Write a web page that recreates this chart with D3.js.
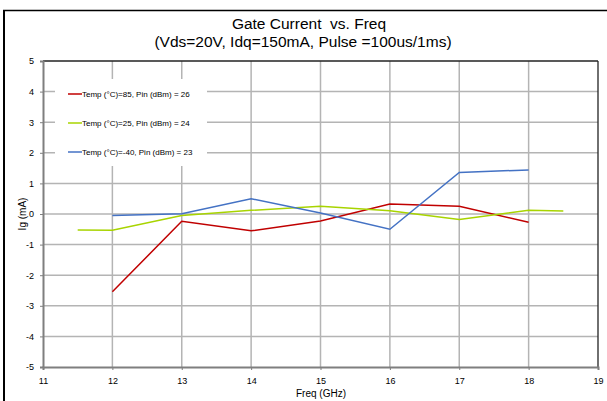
<!DOCTYPE html>
<html>
<head>
<meta charset="utf-8">
<script src="https://cdn.jsdelivr.net/npm/d3@7/dist/d3.min.js"></script>
<style>
  html, body { margin: 0; padding: 0; background: #fff; }
  svg { display: block; font-family: "Liberation Sans", Arial, sans-serif; }
</style>
</head>
<body>
<svg id="chart" width="607" height="401"></svg>
<script>
// Gate current vs. frequency at three temperatures
const freqTicks = [11, 12, 13, 14, 15, 16, 17, 18, 19];
const igTicks = [-5, -4, -3, -2, -1, 0, 1, 2, 3, 4, 5];

const freq85 = [12, 13, 14, 15, 16, 17, 18];
const ig85 = [-2.54, -0.24, -0.55, -0.23, 0.33, 0.25, -0.27];

const freq25 = [11.5, 12, 13, 14, 15, 16, 17, 18, 18.5];
const ig25 = [-0.52, -0.53, -0.05, 0.12, 0.25, 0.11, -0.18, 0.12, 0.10];

const freqM40 = [12, 13, 14, 15, 16, 17, 18];
const igM40 = [-0.05, 0.01, 0.50, 0.03, -0.50, 1.36, 1.44];

const seriesNames = [
  "Temp (°C)=85, Pin (dBm) = 26",
  "Temp (°C)=25, Pin (dBm) = 24",
  "Temp (°C)=-40, Pin (dBm) = 23"
];
const seriesColors = ["#c00000", "#a8d400", "#4472c4"];

const series = [
  { name: seriesNames[0], color: seriesColors[0], x: freq85, y: ig85 },
  { name: seriesNames[1], color: seriesColors[1], x: freq25, y: ig25 },
  { name: seriesNames[2], color: seriesColors[2], x: freqM40, y: igM40 }
];

const svg = d3.select("#chart");
const plotLeft = 43, plotRight = 598, plotTop = 61, plotBottom = 367;

const x = d3.scaleLinear().domain([11, 19]).range([plotLeft, plotRight]);
const y = d3.scaleLinear().domain([-5, 5]).range([plotBottom, plotTop]);
const plain = d => String(d);

// outer chart border (left and top edges)
svg.append("line").attr("x1", 4).attr("x2", 4).attr("y1", 10).attr("y2", 401)
  .attr("stroke", "#000").attr("stroke-width", 2);
svg.append("line").attr("x1", 3).attr("x2", 607).attr("y1", 10.5).attr("y2", 10.5)
  .attr("stroke", "#000").attr("stroke-width", 1.5);

// title
svg.append("text").attr("x", 309).attr("y", 29).attr("text-anchor", "middle")
  .style("white-space", "pre")
  .attr("font-size", 15.5).attr("fill", "#000").text("Gate Current  vs. Freq");
svg.append("text").attr("x", 303).attr("y", 47).attr("text-anchor", "middle")
  .attr("font-size", 15.5).attr("fill", "#000").text("(Vds=20V, Idq=150mA, Pulse =100us/1ms)");

// gridlines
const grid = svg.append("g");
grid.selectAll("line.h").data(igTicks.filter(v => v > -5 && v < 5)).enter().append("line")
  .attr("x1", plotLeft).attr("x2", plotRight)
  .attr("y1", d => y(d)).attr("y2", d => y(d))
  .attr("stroke", "#b4b4b4").attr("stroke-width", 1.5);
grid.selectAll("line.v").data(freqTicks.filter(v => v > 11 && v < 19)).enter().append("line")
  .attr("x1", d => x(d)).attr("x2", d => x(d))
  .attr("y1", plotTop).attr("y2", plotBottom)
  .attr("stroke", "#b4b4b4").attr("stroke-width", 1.5);

// plot frame: top and right dark, left and bottom axis lines gray
svg.append("line").attr("x1", plotLeft).attr("x2", plotRight).attr("y1", plotTop).attr("y2", plotTop)
  .attr("stroke", "#222").attr("stroke-width", 1.3);
svg.append("line").attr("x1", plotRight).attr("x2", plotRight).attr("y1", plotTop).attr("y2", plotBottom)
  .attr("stroke", "#222").attr("stroke-width", 1.3);

// y axis
const yAxis = svg.append("g").attr("transform", `translate(${plotLeft},0)`)
  .call(d3.axisLeft(y).tickValues(igTicks).tickFormat(plain).tickSize(3).tickPadding(6));
yAxis.select(".domain").attr("stroke", "#7f7f7f").attr("stroke-width", 2);
yAxis.selectAll(".tick line").attr("stroke", "#7f7f7f");
yAxis.selectAll("text").attr("font-size", 9).attr("fill", "#000")
  .attr("font-family", "Liberation Sans, Arial, sans-serif");

// x axis
const xAxis = svg.append("g").attr("transform", `translate(0,${plotBottom})`)
  .call(d3.axisBottom(x).tickValues(freqTicks).tickFormat(plain).tickSize(3).tickPadding(8));
xAxis.select(".domain").attr("stroke", "#7f7f7f").attr("stroke-width", 2);
xAxis.selectAll(".tick line").attr("stroke", "#7f7f7f");
xAxis.selectAll("text").attr("font-size", 9).attr("fill", "#000")
  .attr("font-family", "Liberation Sans, Arial, sans-serif");

// axis titles
svg.append("text").attr("x", 321).attr("y", 397).attr("text-anchor", "middle")
  .attr("font-size", 10).attr("fill", "#000").text("Freq (GHz)");
svg.append("text").attr("transform", "translate(26,214) rotate(-90)")
  .attr("text-anchor", "middle").attr("font-size", 10).attr("fill", "#000").text("Ig (mA)");

// series lines
const line = d3.line().x(d => x(d[0])).y(d => y(d[1]));
series.forEach(s => {
  svg.append("path")
    .datum(s.x.map((f, i) => [f, s.y[i]]))
    .attr("d", line)
    .attr("fill", "none")
    .attr("stroke", s.color)
    .attr("stroke-width", 1.5);
});

// legend box (white background over the grid)
const legend = svg.append("g");
legend.append("rect").attr("x", 55).attr("y", 79).attr("width", 152).attr("height", 87)
  .attr("fill", "#fff");
const legendY = d3.scalePoint().domain(seriesNames).range([94, 152]);
series.forEach(s => {
  const ly = legendY(s.name);
  legend.append("line").attr("x1", 68).attr("x2", 82).attr("y1", ly).attr("y2", ly)
    .attr("stroke", s.color).attr("stroke-width", 1.5);
  legend.append("text").attr("x", 82).attr("y", ly + 2.8)
    .attr("font-size", 8).attr("fill", "#000").text(s.name);
});
</script>
</body>
</html>
